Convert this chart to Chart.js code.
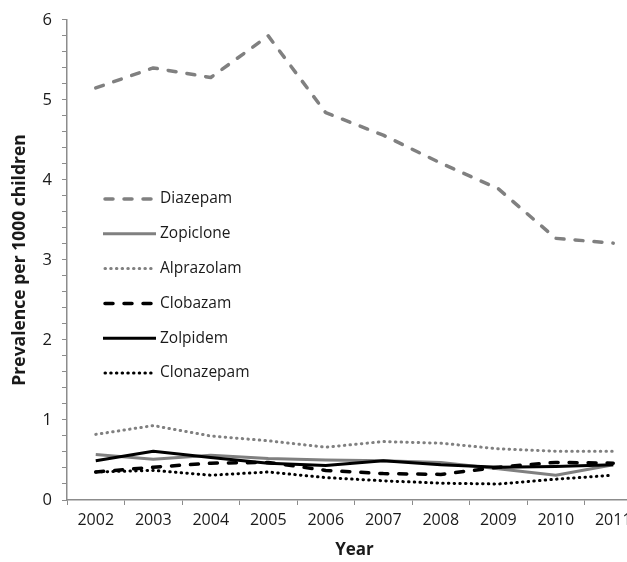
<!DOCTYPE html>
<html>
<head>
<meta charset="utf-8">
<script src="https://cdn.jsdelivr.net/npm/chart.js@4.4.1/dist/chart.umd.min.js"></script>
<style>
  html, body { margin: 0; padding: 0; background: #fff; overflow: hidden; }
  #wrap { width: 660px; height: 562px; }
</style>
</head>
<body>
<div id="wrap"><canvas id="c" width="660" height="562" style="width:660px;height:562px"></canvas></div>
<script>
const years = ['2002','2003','2004','2005','2006','2007','2008','2009','2010','2011'];
const seriesNames = ['Diazepam','Zopiclone','Alprazolam','Clobazam','Zolpidem','Clonazepam'];
const diazepam   = [5.15, 5.40, 5.28, 5.80, 4.84, 4.56, 4.21, 3.89, 3.27, 3.21];
const zopiclone  = [0.57, 0.51, 0.56, 0.52, 0.50, 0.49, 0.47, 0.39, 0.31, 0.44];
const alprazolam = [0.82, 0.93, 0.80, 0.74, 0.66, 0.73, 0.71, 0.64, 0.61, 0.61];
const clobazam   = [0.35, 0.41, 0.46, 0.47, 0.37, 0.33, 0.32, 0.41, 0.47, 0.46];
const zolpidem   = [0.49, 0.61, 0.53, 0.46, 0.43, 0.49, 0.44, 0.41, 0.42, 0.44];
const clonazepam = [0.35, 0.37, 0.31, 0.35, 0.28, 0.24, 0.21, 0.20, 0.26, 0.31];
const yMin = 0, yMax = 6, yStep = 0.2;

const GRAY = '#808080';
const BLACK = '#000000';
const FONT = "'Open Sans', sans-serif";
const TXT = '#1a1a1a';
const AXIS = '#8c8c8c';

const styles = [
  { color: GRAY,  width: 3.5, dash: [8, 11] },
  { color: GRAY,  width: 3,   dash: [] },
  { color: GRAY,  width: 3,   dash: [0.5, 5.2] },
  { color: BLACK, width: 3.5, dash: [8, 11] },
  { color: BLACK, width: 3,   dash: [] },
  { color: BLACK, width: 3,   dash: [0.5, 5.2] }
];
const values = [diazepam, zopiclone, alprazolam, clobazam, zolpidem, clonazepam];

const datasets = seriesNames.map((name, i) => ({
  label: name,
  data: values[i],
  borderColor: styles[i].color,
  borderWidth: styles[i].width,
  borderDash: styles[i].dash,
  borderCapStyle: styles[i].dash.length ? 'round' : 'butt',
  borderJoinStyle: 'round',
  pointRadius: 0,
  tension: 0,
  fill: false,
  order: 6 - i
}));

const legendPlugin = {
  id: 'insideLegend',
  afterDraw(chart) {
    const ctx = chart.ctx;
    const x0 = 103, x1 = 156, tx = 160, y0 = 199, dy = 34.8;
    ctx.save();
    chart.data.datasets.forEach((ds, i) => {
      const y = y0 + i * dy;
      ctx.beginPath();
      ctx.strokeStyle = ds.borderColor;
      ctx.lineWidth = ds.borderWidth;
      ctx.setLineDash(ds.borderDash || []);
      ctx.lineCap = ds.borderCapStyle;
      ctx.moveTo(x0 + (ds.borderDash.length ? 2 : 0), y);
      ctx.lineTo(x1, y);
      ctx.stroke();
      ctx.setLineDash([]);
      ctx.fillStyle = TXT;
      ctx.font = '15.5px ' + FONT;
      ctx.textAlign = 'left';
      ctx.textBaseline = 'middle';
      ctx.fillText(ds.label, tx, y);
    });
    ctx.restore();
  }
};

new Chart(document.getElementById('c'), {
  type: 'line',
  data: { labels: years, datasets },
  options: {
    responsive: false,
    animation: false,
    layout: { padding: { top: 19, right: 18, left: 0, bottom: 0 } },
    plugins: { legend: { display: false }, tooltip: { enabled: false } },
    scales: {
      x: {
        offset: true,
        grid: { offset: true, drawOnChartArea: false, color: AXIS, tickLength: 5, tickColor: AXIS },
        border: { color: AXIS, width: 1.5 },
        ticks: { color: TXT, font: { family: FONT, size: 16 }, padding: 6, maxRotation: 0, autoSkip: false },
        title: { display: true, text: 'Year', color: TXT, font: { family: FONT, size: 17, weight: 'bold' }, padding: { top: 0, bottom: 2 } },
        afterFit(s) { s.height = 62; }
      },
      y: {
        min: yMin, max: yMax,
        grid: { drawOnChartArea: false, color: AXIS, tickLength: 5, tickColor: AXIS },
        border: { color: AXIS, width: 1.5 },
        ticks: {
          stepSize: yStep, autoSkip: false, color: TXT, padding: 10,
          font: { family: FONT, size: 16.5 },
          callback(v) { return Math.abs(v - Math.round(v)) < 1e-6 ? String(Math.round(v)) : ''; }
        },
        title: { display: true, text: 'Prevalence per 1000 children', color: TXT, font: { family: FONT, size: 17.5, weight: 'bold' }, padding: { top: 10, bottom: 0 } },
        afterFit(s) { s.width = 67; }
      }
    }
  },
  plugins: [legendPlugin]
});
</script>
</body>
</html>
